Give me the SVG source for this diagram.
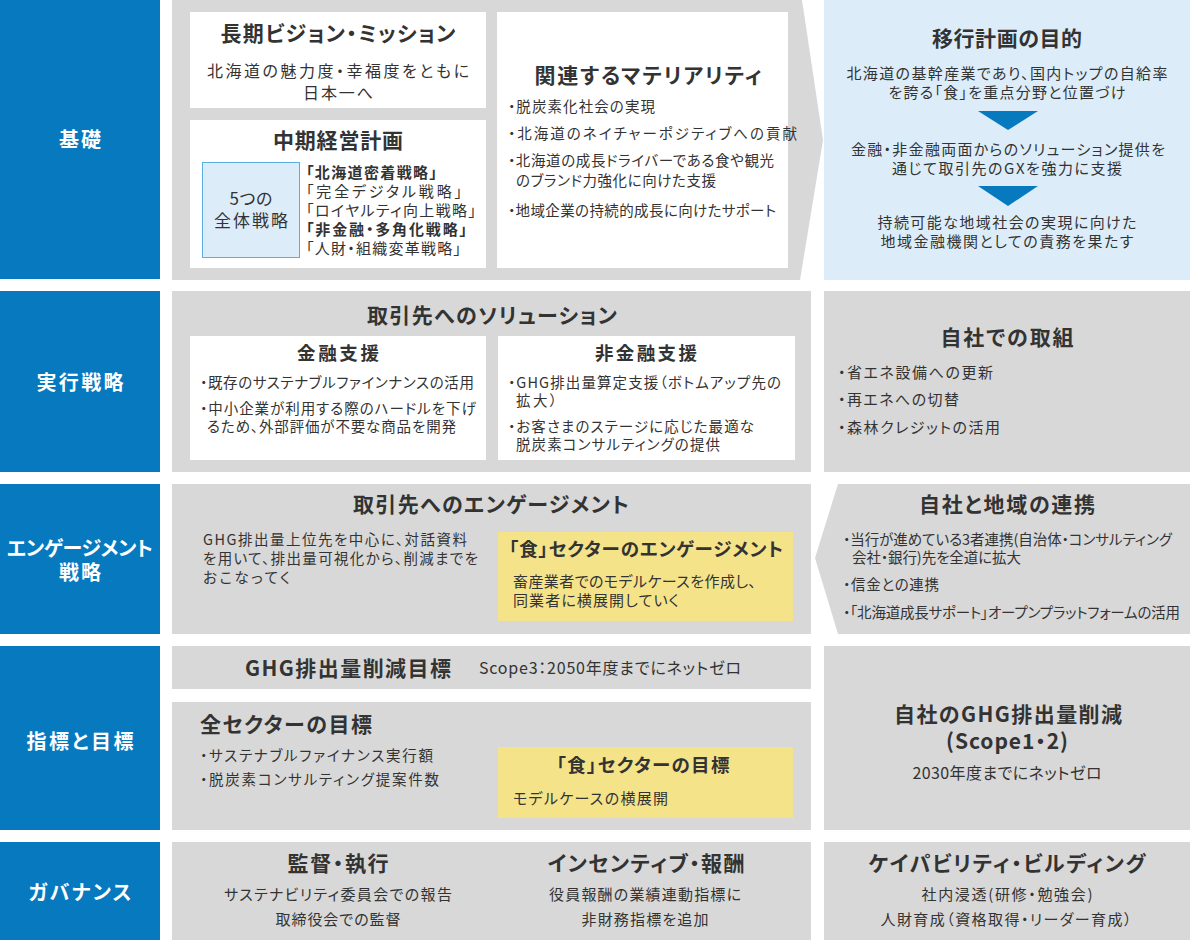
<svg xmlns="http://www.w3.org/2000/svg" width="1190" height="940" viewBox="0 0 1190 940">
<style>
text{font-family:"Noto Sans CJK JP","Noto Sans",sans-serif;fill:#333;font-feature-settings:"palt" 1}
.lab{fill:#fff;font-weight:bold;font-size:20px;text-anchor:middle}
.h19{font-weight:bold;font-size:21px}
.h17{font-weight:bold;font-size:18.5px}
.c{text-anchor:middle}
.s15{font-size:16px}
.s14{font-size:15px}
.s13{font-size:14.5px}
.blue{fill:#0779bf}
.gray{fill:#d8d8d8}
.white{fill:#fff}
.lb{fill:#dcedf9}
.yel{fill:#f5e389}
.tri{fill:#0779bf}
</style>
<rect width="1190" height="940" fill="#fff"/>

<g id="labels">
<rect class="blue" x="0" y="0" width="160" height="279"/>
<text class="lab" x="80" y="147" textLength="42" lengthAdjust="spacing">基礎</text>
<rect class="blue" x="0" y="291" width="160" height="181"/>
<text class="lab" x="80" y="390" textLength="87" lengthAdjust="spacing">実行戦略</text>
<rect class="blue" x="0" y="484" width="160" height="150"/>
<text class="lab" x="80" y="556" textLength="146" lengthAdjust="spacing">エンゲージメント</text>
<text class="lab" x="80" y="580" textLength="42" lengthAdjust="spacing">戦略</text>
<rect class="blue" x="0" y="646" width="160" height="184"/>
<text class="lab" x="80" y="749" textLength="107" lengthAdjust="spacing">指標と目標</text>
<rect class="blue" x="0" y="842" width="160" height="98"/>
<text class="lab" x="80" y="900" textLength="103" lengthAdjust="spacing">ガバナンス</text>
</g>

<g id="row1">
<polygon class="gray" points="172,0 802,0 823,140 800,280 172,280"/>
<g id="vision">
<rect class="white" x="190" y="12" width="296" height="96"/>
<text class="h19 c" x="338" y="41" textLength="235" lengthAdjust="spacing">長期ビジョン・ミッション</text>
<text class="s15 c" x="338" y="77" textLength="262" lengthAdjust="spacing">北海道の魅力度・幸福度をともに</text>
<text class="s15 c" x="338" y="99" textLength="70" lengthAdjust="spacing">日本一へ</text>
</g>
<g id="midterm">
<rect class="white" x="190" y="120" width="296" height="148"/>
<text class="h19 c" x="338" y="148" textLength="130" lengthAdjust="spacing">中期経営計画</text>
<rect x="202.5" y="162.5" width="97" height="95" fill="#dcedf9" stroke="#5aaee0" stroke-width="1"/>
<text class="c" x="251" y="205" font-size="17" textLength="43" lengthAdjust="spacing">5つの</text>
<text class="c" x="251" y="227" font-size="17" textLength="74" lengthAdjust="spacing">全体戦略</text>
<text class="s14" x="306" y="178" font-weight="bold" textLength="131" lengthAdjust="spacing">「北海道密着戦略」</text>
<text class="s14" x="306" y="197" textLength="156" lengthAdjust="spacing">「完全デジタル戦略」</text>
<text class="s14" x="306" y="216" textLength="170" lengthAdjust="spacing">「ロイヤルティ向上戦略」</text>
<text class="s14" x="306" y="235" font-weight="bold" textLength="161" lengthAdjust="spacing">「非金融・多角化戦略」</text>
<text class="s14" x="306" y="254" textLength="155" lengthAdjust="spacing">「人財・組織変革戦略」</text>
</g>
<g id="materiality">
<rect class="white" x="497" y="12" width="291" height="256"/>
<text class="h19 c" x="648" y="83" textLength="227" lengthAdjust="spacing">関連するマテリアリティ</text>
<text class="s13" x="508" y="112" textLength="147" lengthAdjust="spacing">・脱炭素化社会の実現</text>
<text class="s13" x="508" y="139" textLength="289" lengthAdjust="spacing">・北海道のネイチャーポジティブへの貢献</text>
<text class="s13" x="508" y="166" textLength="266" lengthAdjust="spacing">・北海道の成長ドライバーである食や観光</text>
<text class="s13" x="516" y="186" textLength="200" lengthAdjust="spacing">のブランド力強化に向けた支援</text>
<text class="s13" x="508" y="216" textLength="268" lengthAdjust="spacing">・地域企業の持続的成長に向けたサポート</text>
</g>
<g id="purpose">
<rect class="lb" x="824" y="0" width="366" height="280"/>
<text class="h19 c" x="1007" y="46" textLength="150" lengthAdjust="spacing">移行計画の目的</text>
<text class="s14 c" x="1007" y="79" textLength="321" lengthAdjust="spacing">北海道の基幹産業であり、国内トップの自給率</text>
<text class="s14 c" x="1007" y="98" textLength="237" lengthAdjust="spacing">を誇る「食」を重点分野と位置づけ</text>
<text class="s14 c" x="1008" y="155" textLength="314" lengthAdjust="spacing">金融・非金融両面からのソリューション提供を</text>
<text class="s14 c" x="1007" y="174" textLength="230" lengthAdjust="spacing">通じて取引先のGXを強力に支援</text>
<text class="s14 c" x="1007" y="228" textLength="259" lengthAdjust="spacing">持続可能な地域社会の実現に向けた</text>
<text class="s14 c" x="1007" y="247" textLength="253" lengthAdjust="spacing">地域金融機関としての責務を果たす</text>
</g>
</g>

<g id="connectors">
<polygon class="tri" points="978,111 1038,111 1008,130"/>
<polygon class="tri" points="978,186 1038,186 1008,206"/>
</g>

<g id="row2">
<g id="solutions">
<rect class="gray" x="172" y="291" width="639" height="181"/>
<text class="h19 c" x="492" y="323" textLength="250" lengthAdjust="spacing">取引先へのソリューション</text>
<rect class="white" x="190" y="336" width="296" height="124"/>
<text class="h17 c" x="338" y="360" textLength="82" lengthAdjust="spacing">金融支援</text>
<text class="s13" x="200" y="388" textLength="274" lengthAdjust="spacing">・既存のサステナブルファインナンスの活用</text>
<text class="s13" x="200" y="414" textLength="276" lengthAdjust="spacing">・中小企業が利用する際のハードルを下げ</text>
<text class="s13" x="207" y="432" textLength="249" lengthAdjust="spacing">るため、外部評価が不要な商品を開発</text>
<rect class="white" x="498" y="336" width="297" height="124"/>
<text class="h17 c" x="646" y="360" textLength="102" lengthAdjust="spacing">非金融支援</text>
<text class="s13" x="508" y="388" textLength="273" lengthAdjust="spacing">・GHG排出量算定支援（ボトムアップ先の</text>
<text class="s13" x="516" y="406" textLength="41" lengthAdjust="spacing">拡大）</text>
<text class="s13" x="508" y="432" textLength="246" lengthAdjust="spacing">・お客さまのステージに応じた最適な</text>
<text class="s13" x="516" y="450" textLength="204" lengthAdjust="spacing">脱炭素コンサルティングの提供</text>
</g>
<g id="own-efforts">
<rect class="gray" x="824" y="291" width="366" height="181"/>
<text class="h19 c" x="1007" y="345" textLength="133" lengthAdjust="spacing">自社での取組</text>
<text class="s14" x="838" y="378" textLength="155" lengthAdjust="spacing">・省エネ設備への更新</text>
<text class="s14" x="838" y="405" textLength="121" lengthAdjust="spacing">・再エネへの切替</text>
<text class="s14" x="838" y="433" textLength="162" lengthAdjust="spacing">・森林クレジットの活用</text>
</g>
</g>

<g id="row3">
<g id="engagement">
<rect class="gray" x="172" y="484" width="639" height="150"/>
<text class="h19 c" x="491" y="512" textLength="276" lengthAdjust="spacing">取引先へのエンゲージメント</text>
<text class="s13" x="203" y="545" textLength="264" lengthAdjust="spacing">GHG排出量上位先を中心に、対話資料</text>
<text class="s13" x="203" y="564" textLength="275" lengthAdjust="spacing">を用いて、排出量可視化から、削減までを</text>
<text class="s13" x="203" y="583" textLength="87" lengthAdjust="spacing">おこなってく</text>
<rect class="yel" x="498" y="532" width="295" height="89"/>
<text class="h17" x="509" y="556" textLength="274" lengthAdjust="spacing">「食」セクターのエンゲージメント</text>
<text class="s14" x="513" y="587" textLength="243" lengthAdjust="spacing">畜産業者でのモデルケースを作成し、</text>
<text class="s14" x="513" y="606" textLength="166" lengthAdjust="spacing">同業者に横展開していく</text>
</g>
<g id="regional">
<polygon class="gray" points="838,484 1190,484 1190,634 838,634 815,558"/>
<text class="h19 c" x="1007" y="512" textLength="176" lengthAdjust="spacing">自社と地域の連携</text>
<text class="s13" x="843" y="545" textLength="329" lengthAdjust="spacing">・当行が進めている3者連携(自治体・コンサルティング</text>
<text class="s13" x="852" y="563" textLength="169" lengthAdjust="spacing">会社・銀行)先を全道に拡大</text>
<text class="s13" x="843" y="590" textLength="96" lengthAdjust="spacing">・信金との連携</text>
<text class="s13" x="843" y="618" textLength="337" lengthAdjust="spacing">・「北海道成長サポート」オープンプラットフォームの活用</text>
</g>
</g>

<g id="row4">
<g id="ghg-target">
<rect class="gray" x="172" y="646" width="639" height="43"/>
<text class="h19" x="245" y="676" textLength="206" lengthAdjust="spacing">GHG排出量削減目標</text>
<text x="479" y="674" font-size="16" textLength="262" lengthAdjust="spacing">Scope3：2050年度までにネットゼロ</text>
</g>
<g id="sector-target">
<rect class="gray" x="172" y="702" width="639" height="128"/>
<text class="h19" x="200" y="732" textLength="172" lengthAdjust="spacing">全セクターの目標</text>
<text class="s13" x="200" y="761" textLength="233" lengthAdjust="spacing">・サステナブルファイナンス実行額</text>
<text class="s13" x="200" y="785" textLength="239" lengthAdjust="spacing">・脱炭素コンサルティング提案件数</text>
<rect class="yel" x="498" y="747" width="295" height="71"/>
<text class="h17 c" x="643" y="772" textLength="173" lengthAdjust="spacing">「食」セクターの目標</text>
<text class="s14" x="513" y="804" textLength="155" lengthAdjust="spacing">モデルケースの横展開</text>
</g>
<g id="own-ghg">
<rect class="gray" x="824" y="646" width="366" height="184"/>
<text class="h19 c" x="1008" y="722" textLength="228" lengthAdjust="spacing">自社のGHG排出量削減</text>
<text class="h19 c" x="1007" y="749" textLength="122" lengthAdjust="spacing">(Scope1・2)</text>
<text class="c" x="1007" y="779" font-size="16" textLength="189" lengthAdjust="spacing">2030年度までにネットゼロ</text>
</g>
</g>

<g id="row5">
<g id="governance">
<rect class="gray" x="172" y="842" width="639" height="98"/>
<text class="h19 c" x="338" y="871" textLength="101" lengthAdjust="spacing">監督・執行</text>
<text class="s14 c" x="338" y="900" textLength="228" lengthAdjust="spacing">サステナビリティ委員会での報告</text>
<text class="s14 c" x="338" y="925" textLength="125" lengthAdjust="spacing">取締役会での監督</text>
<text class="h19 c" x="646" y="871" textLength="197" lengthAdjust="spacing">インセンティブ・報酬</text>
<text class="s14 c" x="645" y="900" textLength="192" lengthAdjust="spacing">役員報酬の業績連動指標に</text>
<text class="s14 c" x="645" y="925" textLength="127" lengthAdjust="spacing">非財務指標を追加</text>
</g>
<g id="capability">
<rect class="gray" x="824" y="842" width="366" height="98"/>
<text class="h19 c" x="1007" y="871" textLength="277" lengthAdjust="spacing">ケイパビリティ・ビルディング</text>
<text class="s14 c" x="1007" y="900" textLength="171" lengthAdjust="spacing">社内浸透(研修・勉強会)</text>
<text class="s14 c" x="1006" y="925" textLength="251" lengthAdjust="spacing">人財育成（資格取得・リーダー育成）</text>
</g>
</g>
</svg>
